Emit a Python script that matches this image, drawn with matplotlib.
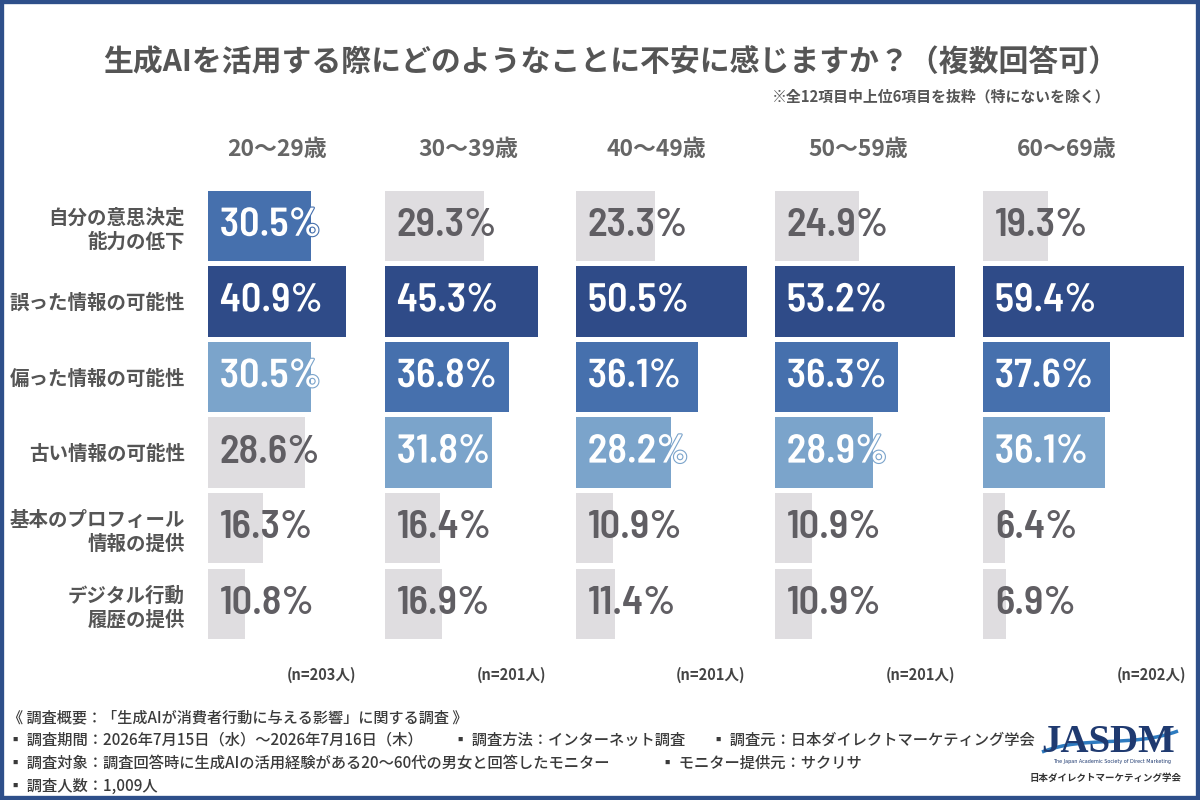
import matplotlib
matplotlib.use("Agg")
import matplotlib.pyplot as plt
import matplotlib.patheffects as pe
from matplotlib import font_manager
from matplotlib.patches import Rectangle, PathPatch
from matplotlib.path import Path
import numpy as np

plt.rcParams['font.family'] = ['Noto Sans CJK JP', 'DejaVu Sans']

# データ
ages = ['20～29歳', '30～39歳', '40～49歳', '50～59歳', '60～69歳']
n_labels = ['(n=203人)', '(n=201人)', '(n=201人)', '(n=201人)', '(n=202人)']
categories = ['自分の意思決定\n能力の低下', '誤った情報の可能性', '偏った情報の可能性',
              '古い情報の可能性', '基本のプロフィール\n情報の提供', 'デジタル行動\n履歴の提供']
values_20s = [30.5, 40.9, 30.5, 28.6, 16.3, 10.8]
values_30s = [29.3, 45.3, 36.8, 31.8, 16.4, 16.9]
values_40s = [23.3, 50.5, 36.1, 28.2, 10.9, 11.4]
values_50s = [24.9, 53.2, 36.3, 28.9, 10.9, 10.9]
values_60s = [19.3, 59.4, 37.6, 36.1, 6.4, 6.9]
all_values = [values_20s, values_30s, values_40s, values_50s, values_60s]

title = '生成AIを活用する際にどのようなことに不安に感じますか？（複数回答可）'
subtitle = '※全12項目中上位6項目を抜粋（特にないを除く）'

# 色（順位1〜3、その他）
rank_colors = ['#2F4B88', '#4670AD', '#7BA4CB']
gray = '#DFDDE0'
text_gray = '#605E63'

avail = {f.name for f in font_manager.fontManager.ttflist}
num_font = 'Roboto'
for cand in ['Barlow Semi Condensed', 'Roboto Condensed', 'Saira SemiCondensed',
             'Liberation Sans Narrow']:
    if cand in avail:
        num_font = cand
        break

W, H = 1200, 800
fig = plt.figure(figsize=(12, 8), dpi=100)
fig.patch.set_facecolor('white')

px_per_pct = 3.38
panel_left = [208, 385, 576, 775, 983]
panel_w = 205
top, bottom = 188, 641.6

for k, vals in enumerate(all_values):
    ax = fig.add_axes([panel_left[k] / W, 1 - bottom / H, panel_w / W, (bottom - top) / H])
    order = np.argsort(-np.array(vals), kind='stable')
    colors = [gray] * len(vals)
    for r in range(3):
        colors[order[r]] = rank_colors[r]
    y = np.arange(len(vals))
    ax.barh(y, vals, height=0.93, color=colors, edgecolor='none')
    ax.set_xlim(0, panel_w / px_per_pct)
    ax.set_ylim(len(vals) - 0.5, -0.5)
    for i, v in enumerate(vals):
        colored = colors[i] != gray
        t = ax.annotate(f'{v}%', xy=(0, i), xytext=(8.5, 0), textcoords='offset points',
                        ha='left', va='center', fontsize=29,
                        color='white' if colored else text_gray,
                        family=[num_font, 'DejaVu Sans'], fontweight=600,
                        annotation_clip=False)
        if colored:
            t.set_path_effects([pe.withStroke(linewidth=1.6, foreground=colors[i])])
    for s in ax.spines.values():
        s.set_visible(False)
    ax.set_xticks([])
    if k == 0:
        ax.set_yticks(y)
        ax.set_yticklabels(categories, fontsize=14, fontweight='bold', color='#555555',
                           linespacing=1.3, multialignment='right')
        ax.tick_params(axis='y', length=0, pad=16.5)
    else:
        ax.set_yticks([])
    ax.patch.set_alpha(0)

# 見出し
age_centers = [277, 468, 656, 858, 1067]
for k, a in enumerate(ages):
    fig.text(age_centers[k] / W, 1 - 150 / H, a, ha='center', va='center',
             fontsize=16.5, fontweight='bold', color='#666666')

n_right = [356, 546, 745, 955, 1186]
for k, n in enumerate(n_labels):
    fig.text(n_right[k] / W, 1 - 675 / H, n, ha='right', va='center',
             fontsize=10.5, fontweight='bold', color='#444444')

fig.text(611 / W, 1 - 62 / H, title, ha='center', va='center',
         fontsize=21.5, fontweight='bold', color='#555555')
fig.text(1110 / W, 1 - 97 / H, subtitle, ha='right', va='center',
         fontsize=10.7, fontweight='bold', color='#555555')

# 調査概要
foot = dict(fontsize=11, fontweight='medium', color='#3A3A3A', va='center', ha='left',
            family=['Noto Sans CJK JP', 'DejaVu Sans'])
fig.text(8 / W, 1 - 718 / H, '《 調査概要：「生成AIが消費者行動に与える影響」に関する調査 》',
         **{**foot, 'fontsize': 10.9})
fig.text(8 / W, 1 - 740 / H, '▪ 調査期間：2026年7月15日（水）～2026年7月16日（木）', **foot)
fig.text(453 / W, 1 - 740 / H, '▪ 調査方法：インターネット調査', **foot)
fig.text(711 / W, 1 - 740 / H, '▪ 調査元：日本ダイレクトマーケティング学会', **foot)
fig.text(8 / W, 1 - 763 / H, '▪ 調査対象：調査回答時に生成AIの活用経験がある20～60代の男女と回答したモニター', **foot)
fig.text(660 / W, 1 - 763 / H, '▪ モニター提供元：サクリサ', **foot)
fig.text(8 / W, 1 - 786 / H, '▪ 調査人数：1,009人', **foot)

# ロゴ
navy = '#1F3A70'
fig.text(1108 / W, 1 - 742 / H, 'JASDM', ha='center', va='center', fontsize=28,
         fontweight='bold', color=navy, family='Liberation Serif')
swoosh = Path([(1042, 752), (1085, 735), (1132, 748), (1178, 731)],
              [Path.MOVETO, Path.CURVE4, Path.CURVE4, Path.CURVE4])
tr = matplotlib.transforms.Affine2D().scale(1 / W, -1 / H).translate(0, 1) + fig.transFigure
fig.patches.append(PathPatch(swoosh, facecolor='none', edgecolor='#2E7BC0', lw=2.5, transform=tr))
fig.text(1112 / W, 1 - 762 / H, 'The Japan Academic Society of Direct Marketing', ha='center',
         va='center', fontsize=3.5, color=navy, family='DejaVu Sans')
fig.text(1106 / W, 1 - 778 / H, '日本ダイレクトマーケティング学会', ha='center', va='center',
         fontsize=6.8, fontweight='bold', color='#333333')

# 枠線
fig.patches.append(Rectangle((0, 0), 1, 1, transform=fig.transFigure, fill=False,
                             edgecolor='#2E4F8A', lw=6))

fig.savefig('out.png', dpi=100)
